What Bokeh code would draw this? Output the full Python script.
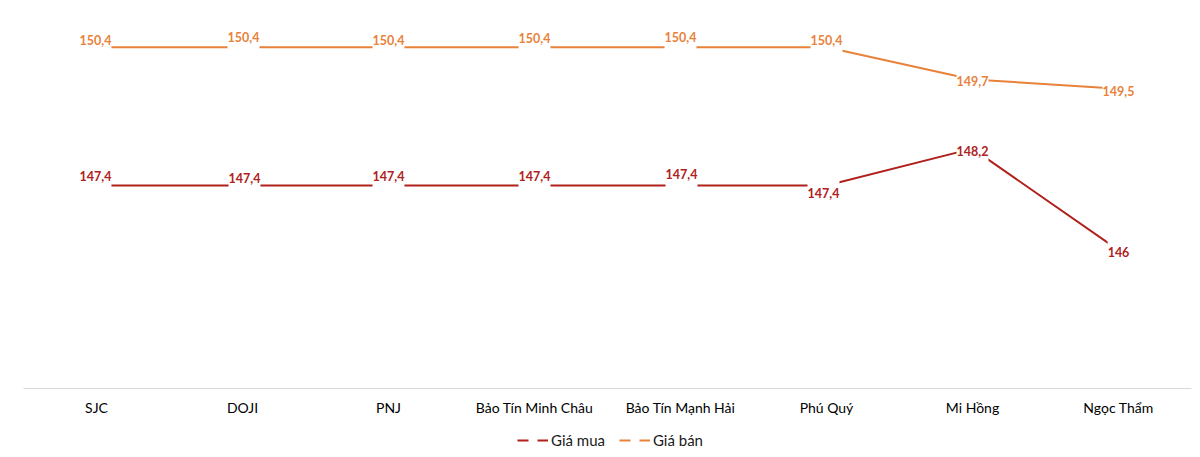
from bokeh.plotting import figure
from bokeh.models import ColumnDataSource, Legend, LegendItem, FactorRange, Range1d
from bokeh.layouts import column
from bokeh.core.properties import value
from bokeh.embed import file_html
from bokeh.resources import INLINE

categories = ["SJC", "DOJI", "PNJ", "Bảo Tín Minh Châu", "Bảo Tín Mạnh Hải",
              "Phú Quý", "Mi Hồng", "Ngọc Thẩm"]
gia_mua = [147.4, 147.4, 147.4, 147.4, 147.4, 147.4, 148.2, 146.0]
gia_ban = [150.4, 150.4, 150.4, 150.4, 150.4, 150.4, 149.7, 149.5]
series_names = ["Giá mua", "Giá bán"]

# label placement (screen px offsets), styling only
mua_dx = [-1, 2, 0, 0, 1, -3, 0, 0]
mua_dy = [-10, -8, -10, -10, -12, 7, 2, 2]
ban_dx = [-1, 1, 0, 0, 0, 0, 0, 0]
ban_dy = [-7, -10, -7, -9, -10, -7, 2, 2]

C_MUA = "#B0211C"
C_BAN = "#E8823A"
FONT = "Lato"


def fmt(v):
    return f"{v:g}".replace(".", ",")


src = ColumnDataSource(dict(
    x=categories, mua=gia_mua, ban=gia_ban,
    mua_lbl=[fmt(v) for v in gia_mua], ban_lbl=[fmt(v) for v in gia_ban],
    mua_dx=mua_dx, mua_dy=mua_dy, ban_dx=ban_dx, ban_dy=ban_dy,
))

p = figure(width=1200, height=425, x_range=FactorRange(factors=categories, range_padding=0),
           y_range=Range1d(143, 151), output_backend="svg", toolbar_location=None,
           min_border_left=23, min_border_right=9, min_border_top=19, min_border_bottom=37)
p.outline_line_color = None
p.xgrid.visible = False
p.ygrid.visible = False
p.yaxis.visible = False
p.xaxis.axis_line_color = "#D9D9D9"
p.xaxis.axis_line_width = 1
p.xaxis.major_tick_line_color = None
p.xaxis.minor_tick_line_color = None
p.xaxis.major_tick_out = 0
p.xaxis.major_tick_in = 0
p.xaxis.major_label_standoff = 10
p.xaxis.major_label_text_font = FONT
p.xaxis.major_label_text_font_size = "14px"
p.xaxis.major_label_text_color = "#000000"

p.line("x", "mua", source=src, line_color=C_MUA, line_width=2)
p.line("x", "ban", source=src, line_color=C_BAN, line_width=2)

common = dict(text_font=value(FONT), text_font_size="12.5px", text_font_style="bold",
              text_align="center", text_baseline="middle",
              background_fill_color="white",
              padding=dict(left=0, right=0, top=9, bottom=9))
p.text("x", "ban", text="ban_lbl", source=src, x_offset="ban_dx", y_offset="ban_dy",
       text_color=C_BAN, **common)
p.text("x", "mua", text="mua_lbl", source=src, x_offset="mua_dx", y_offset="mua_dy",
       text_color=C_MUA, **common)

# legend in a thin strip below the chart
lg = figure(width=1200, height=32, x_range=Range1d(0, 1), y_range=Range1d(0, 1),
            output_backend="svg", toolbar_location=None,
            x_axis_location=None, y_axis_location=None,
            min_border_left=0, min_border_right=0, min_border_top=0, min_border_bottom=0)
lg.outline_line_color = None
lg.grid.visible = False
leg_mua = lg.line([-2, -1], [-2, -2], line_color=C_MUA, line_width=2, line_dash="11 9")
leg_ban = lg.line([-2, -1], [-2, -2], line_color=C_BAN, line_width=2, line_dash="11 9")

legend = Legend(items=[LegendItem(label=series_names[0], renderers=[leg_mua]),
                       LegendItem(label=series_names[1], renderers=[leg_ban])],
                orientation="horizontal", location=(494, 8),
                border_line_color=None, background_fill_alpha=0,
                padding=0, margin=0, spacing=14, glyph_width=31, glyph_height=16,
                label_height=16, label_standoff=3,
                label_text_font=FONT, label_text_font_size="15px",
                label_text_color="#1A1A1A")
lg.add_layout(legend, "center")

layout = column(p, lg, spacing=0)
open("out.html", "w").write(file_html(layout, INLINE))
